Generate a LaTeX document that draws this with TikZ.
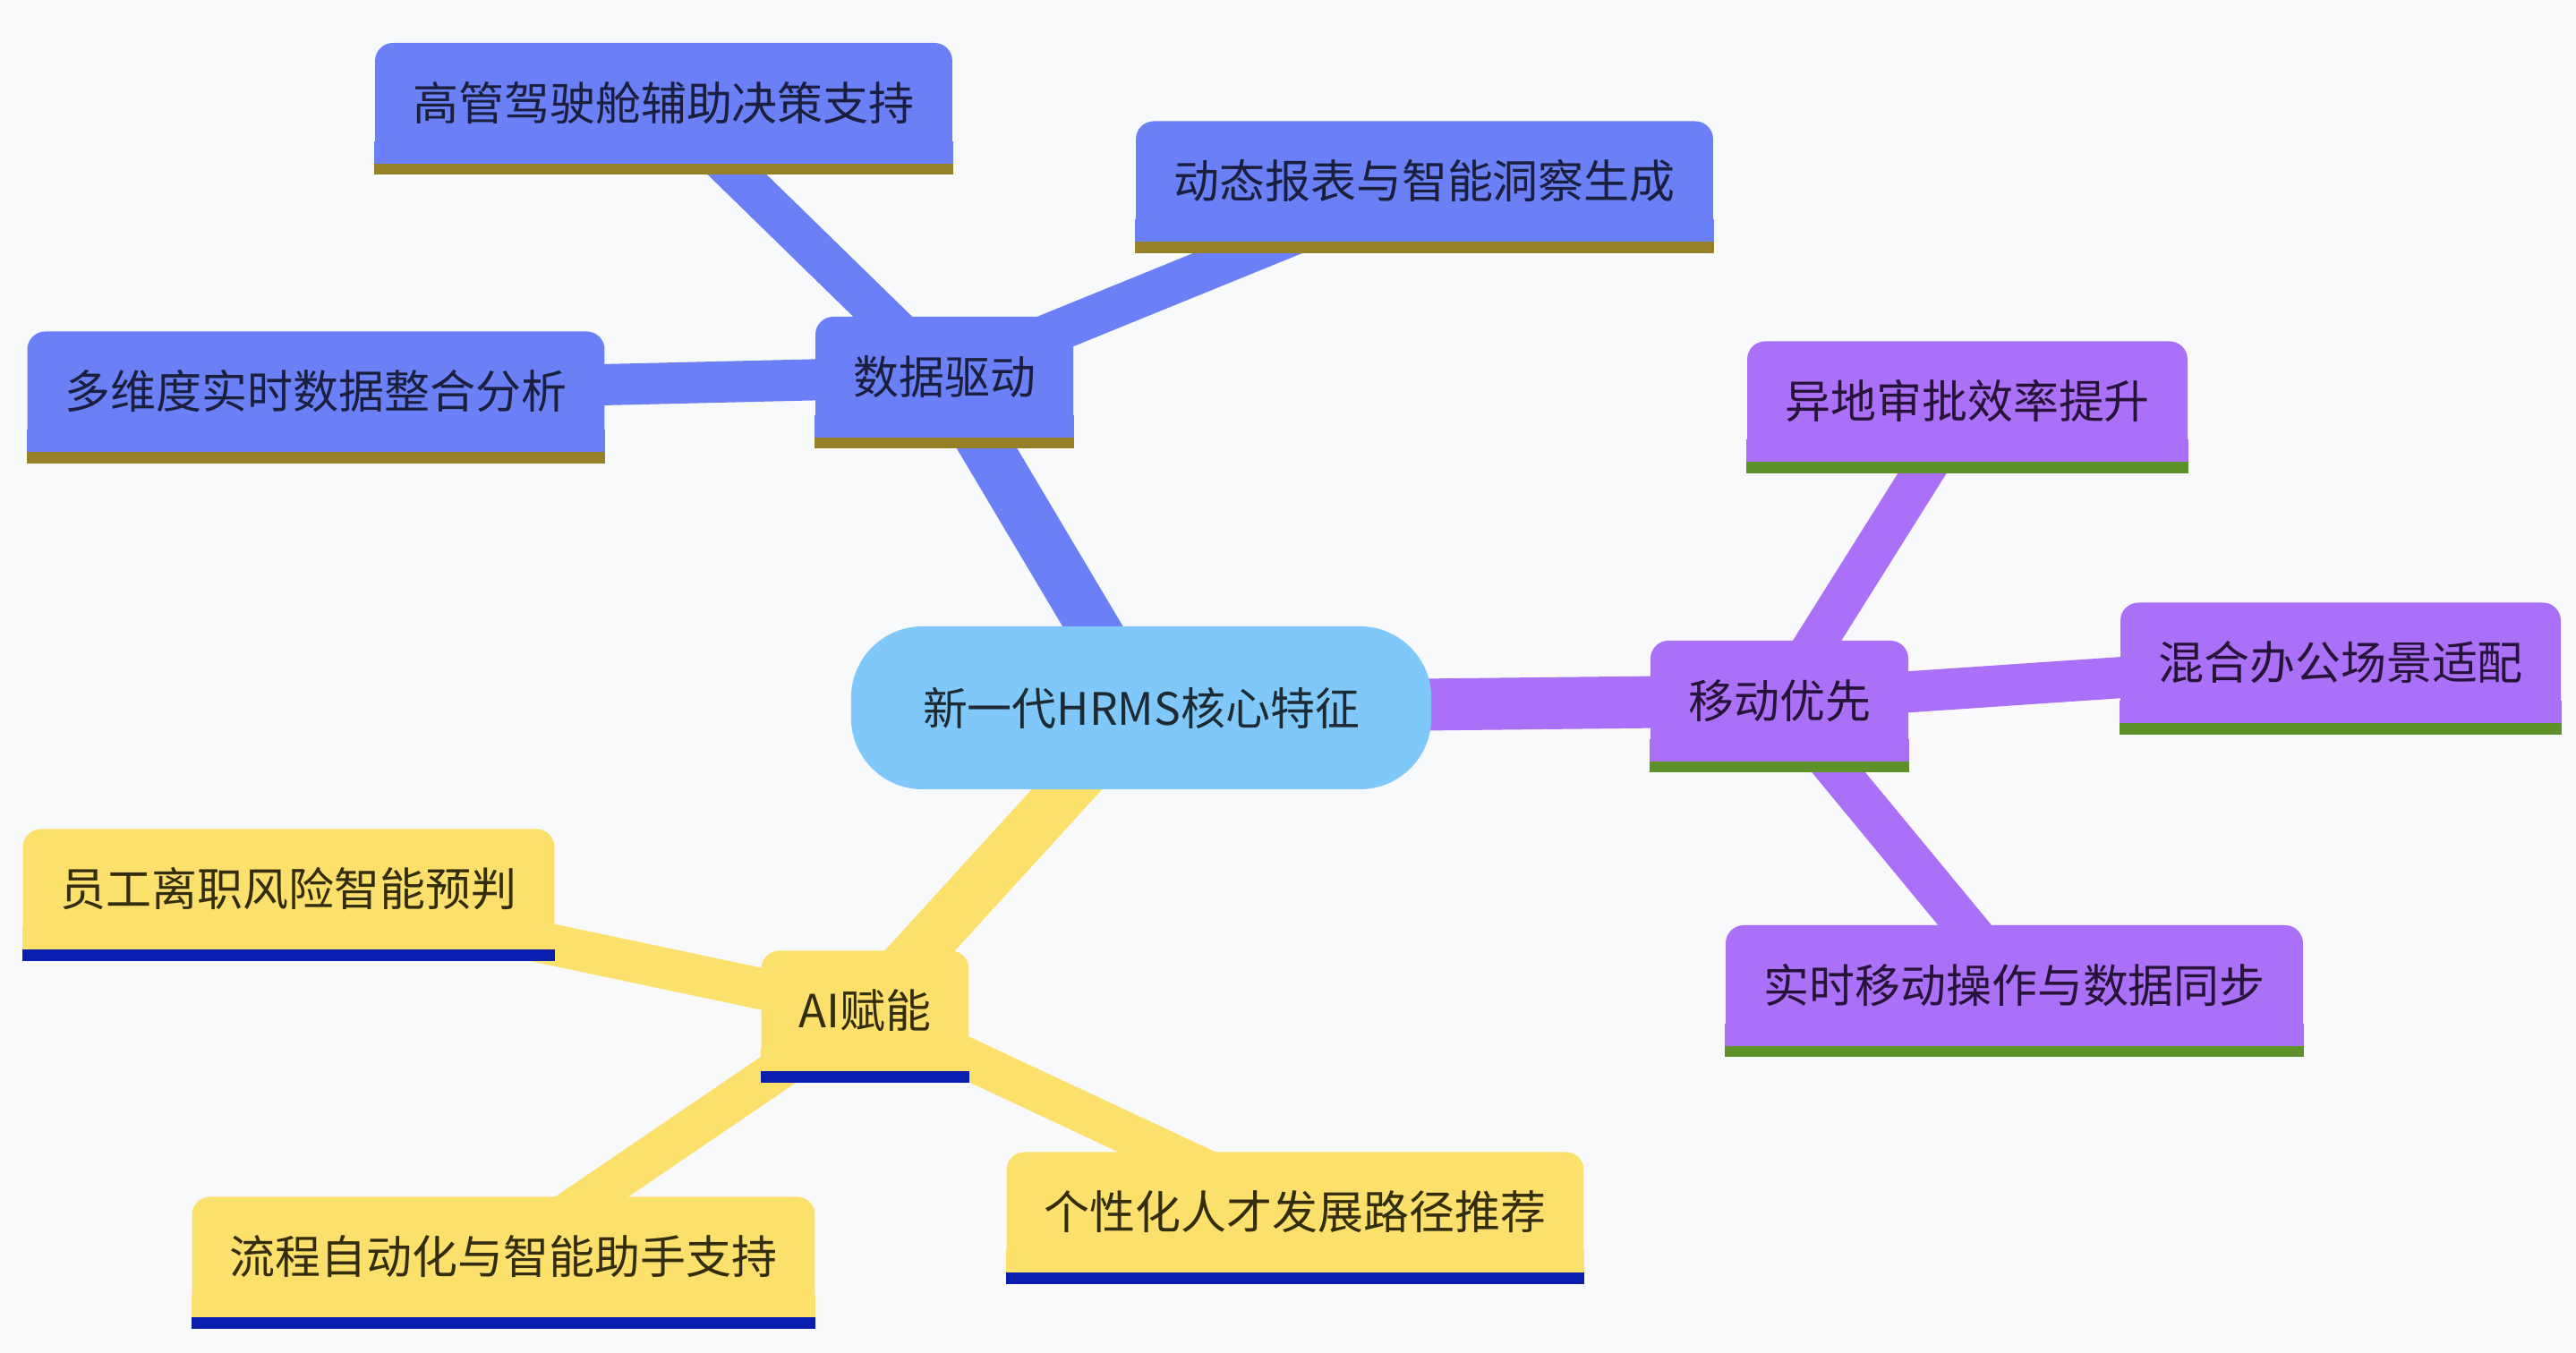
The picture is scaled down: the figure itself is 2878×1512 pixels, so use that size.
\documentclass[tikz,border=0pt]{standalone}
\usepackage{fontspec}
\setmainfont{Noto Sans CJK SC}

\pgfdeclarelayer{edges}
\pgfsetlayers{edges,main}

\definecolor{pageBg}{HTML}{F8F9FB}
\definecolor{rootFill}{HTML}{80C8FA}
\definecolor{rootText}{HTML}{1D2A33}
\definecolor{dataFill}{HTML}{6B7FF6}
\definecolor{dataLine}{HTML}{968129}
\definecolor{dataText}{HTML}{1B1E3C}
\definecolor{mobileFill}{HTML}{AB70F8}
\definecolor{mobileLine}{HTML}{5E912A}
\definecolor{mobileText}{HTML}{261438}
\definecolor{aiFill}{HTML}{FBE16B}
\definecolor{aiLine}{HTML}{0A1FAF}
\definecolor{aiText}{HTML}{332D0F}

\newcommand{\hrmsfont}{\fontsize{14.5pt}{17pt}\selectfont}
\newcommand{\hrmsrootfont}{\fontsize{14.2pt}{17pt}\selectfont}

\begin{document}
\begin{tikzpicture}[
    x=0.01cm, y=-0.01cm,
    rootnode/.style={rectangle, rounded corners=0.8cm, fill=rootFill, text=rootText, minimum width=6.48cm, minimum height=1.82cm, font=\hrmsrootfont},
    boxnode/.style={rectangle, rounded corners=0.2cm, inner xsep=0.42cm, inner ysep=0pt, minimum height=1.34cm, font=\hrmsfont},
    databox/.style={fill=dataFill, text=dataText},
    mobilebox/.style={fill=mobileFill, text=mobileText},
    aibox/.style={fill=aiFill, text=aiText},
    dataline/.style={fill=dataLine},
    mobileline/.style={fill=mobileLine},
    ailine/.style={fill=aiLine},
    trunk/.style={line width=0.58cm},
    twig/.style={line width=0.46cm},
]

    % root node
    \node [rootnode] at (1275, 791) (root) {新一代HRMS核心特征};

    % first level nodes
    \foreach \n/\st/\px/\py/\txt in {
    data/databox/1055/421/数据驱动,
    mobile/mobilebox/1988/783/移动优先,
    ai/aibox/966.5/1129.5/AI赋能}
    {
        \node [boxnode, \st] at (\px, \py) (\n) {\txt};
    }

    % leaf nodes
    \foreach \n/\st/\px/\py/\txt in {
    cockpit/databox/741.5/115/高管驾驶舱辅助决策支持,
    report/databox/1591.5/202.5/动态报表与智能洞察生成,
    analysis/databox/353/437.5/多维度实时数据整合分析,
    approval/mobilebox/2198/448.5/异地审批效率提升,
    hybrid/mobilebox/2615/740.5/混合办公场景适配,
    sync/mobilebox/2250.5/1101/实时移动操作与数据同步,
    attrition/aibox/322.5/993.5/员工离职风险智能预判,
    assistant/aibox/562.5/1404.5/流程自动化与智能助手支持,
    career/aibox/1447/1354.5/个性化人才发展路径推荐}
    {
        \node [boxnode, \st] at (\px, \py) (\n) {\txt};
    }

    % square bottom corners and the underline bar
    \foreach \n/\st/\ln in {
    data/databox/dataline, cockpit/databox/dataline, report/databox/dataline, analysis/databox/dataline,
    mobile/mobilebox/mobileline, approval/mobilebox/mobileline, hybrid/mobilebox/mobileline, sync/mobilebox/mobileline,
    ai/aibox/ailine, attrition/aibox/ailine, assistant/aibox/ailine, career/aibox/ailine}
    {
        \fill [\st] (\n.south west) rectangle ([yshift=0.25cm]\n.south east);
        \fill [\ln] (\n.south west) rectangle ([yshift=-0.125cm]\n.south east);
    }

    \begin{pgfonlayer}{edges}
        \fill [pageBg] (0, 0) rectangle (2878, 1512);

        % root to first level
        \foreach \n/\c in {data/dataFill, mobile/mobileFill, ai/aiFill}
        {
            \draw [trunk, \c] (root.center) -- (\n.center);
        }

        % first level to leaves
        \foreach \a/\b/\c in {
        data/cockpit/dataFill,
        data/report/dataFill,
        data/analysis/dataFill,
        mobile/approval/mobileFill,
        mobile/hybrid/mobileFill,
        mobile/sync/mobileFill,
        ai/attrition/aiFill,
        ai/assistant/aiFill,
        ai/career/aiFill}
        {
            \draw [twig, \c] (\a.center) -- (\b.center);
        }
    \end{pgfonlayer}

\end{tikzpicture}
\end{document}
